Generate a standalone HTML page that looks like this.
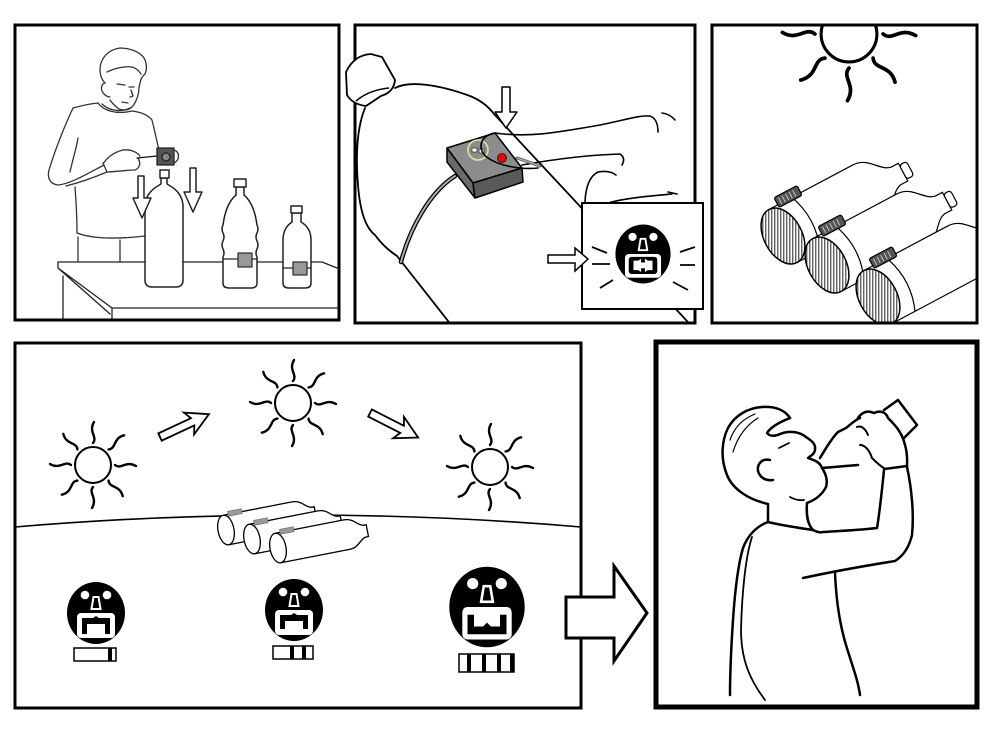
<!DOCTYPE html>
<html><head><meta charset="utf-8"><style>html,body{margin:0;padding:0;background:#fff}svg{display:block}</style></head>
<body>
<svg width="999" height="731" viewBox="0 0 999 731" xmlns="http://www.w3.org/2000/svg">
<defs>
<clipPath id="c1"><rect x="15" y="25" width="324" height="295"/></clipPath>
<clipPath id="c2"><rect x="355" y="25" width="340" height="298"/></clipPath>
<clipPath id="c3"><rect x="712" y="25" width="265" height="298"/></clipPath>
<clipPath id="c4"><rect x="15" y="343" width="566" height="365"/></clipPath>
<clipPath id="c5"><rect x="656" y="342" width="321" height="365"/></clipPath>
<pattern id="hatch" width="3" height="10" patternUnits="userSpaceOnUse" patternTransform="rotate(28)"><rect width="3" height="10" fill="#fff"/><line x1="0.8" y1="0" x2="0.8" y2="10" stroke="#222" stroke-width="1"/></pattern>
<path id="ray" d="M0,-22 C5,-28 -5,-33 1,-43" fill="none" stroke="#000" stroke-width="2.4" stroke-linecap="round"/>
<g id="sun">
<circle r="18" fill="none" stroke="#000" stroke-width="2"/>
<use href="#ray"/><use href="#ray" transform="rotate(45)"/><use href="#ray" transform="rotate(90)"/><use href="#ray" transform="rotate(135)"/>
<use href="#ray" transform="rotate(180)"/><use href="#ray" transform="rotate(225)"/><use href="#ray" transform="rotate(270)"/><use href="#ray" transform="rotate(315)"/>
</g>
<g id="facebase">
<ellipse rx="29" ry="31" fill="#000"/>
<circle cx="-11" cy="-18" r="4.3" fill="#fff"/><circle cx="11" cy="-18" r="4.3" fill="#fff"/>
<path d="M-2.5,-16 L2.5,-16 L4.5,-4 L-4.5,-4 Z" fill="none" stroke="#fff" stroke-width="2"/>
<rect x="-19" y="0" width="38" height="25" rx="4" fill="#fff"/>
</g>
<g id="lb">
<path d="M0,-30 L95,-30 C112,-30 116,-12 128,-10 L136,-10 L136,10 L128,10 C116,12 112,30 95,30 L0,30" fill="#fff" stroke="#000" stroke-width="1.2"/>
<rect x="136" y="-8" width="8" height="16" rx="3" fill="#fff" stroke="#000" stroke-width="1.2"/>
<ellipse cx="0" cy="0" rx="19" ry="30" fill="url(#hatch)" stroke="#000" stroke-width="1.5"/>
<path d="M26,-30 Q38,0 26,30" fill="none" stroke="#000" stroke-width="1.2"/>
<rect x="10" y="-38" width="26" height="11" rx="2" fill="#555" stroke="#000" stroke-width="1.2"/>
<path d="M14,-36 v7 M18,-36 v7 M22,-36 v7 M26,-36 v7 M30,-36 v7" stroke="#ddd" stroke-width="0.8"/>
</g>
<g id="sb">
<path d="M0,-15 L70,-15 C80,-15 82,-7 88,-6 L91,-6 L91,6 L88,6 C82,7 80,15 70,15 L0,15" fill="#fff" stroke="#000" stroke-width="1.3"/>
<ellipse rx="8" ry="15" fill="#fff" stroke="#000" stroke-width="1.3"/>
<rect x="5" y="-18" width="14" height="5" fill="#999" stroke="#666" stroke-width="0.6"/>
</g>
<polygon id="sarrow" points="0,-4 36,-4 32,-12 54,0 32,12 36,4 0,4" fill="#fff" stroke="#000" stroke-width="1.8" stroke-linejoin="miter"/>
</defs>

<rect width="999" height="731" fill="#fff"/>

<!-- PANEL 1 -->
<g clip-path="url(#c1)" fill="none" stroke="#333" stroke-width="1.3" stroke-linecap="round" stroke-linejoin="round">
<path d="M105,83 C100,78 99,70 101,63 C104,54 112,49 120,48 C130,48 140,52 144,58 C147,63 147,70 145,74"/>
<path d="M145,74 C141,77 140,82 139,88 C139,94 137,100 133,106 C129,110 124,111 119,109 C115,106 112,103 110,100"/>
<path d="M105,83 C101,84 100,90 104,94 C106,96 108,97 110,97"/>
<path d="M107,72 C115,68 125,66 132,67 C136,68 139,71 141,74"/>
<path d="M117,84 L125,85 M129,87 L134,87 M122,102 L128,103 M131,90 L133,96 L130,97"/>
<path d="M98,103 C103,110 115,115 132,111 M102,104 C108,110 120,113 130,108"/>
<path d="M73,108 C65,125 55,150 49,170 C47,178 50,184 58,185 C70,184 85,175 104,165"/>
<path d="M98,103 C88,104 80,106 73,108"/>
<path d="M78,138 C76,150 72,162 70,172"/>
<path d="M66,186 C82,182 95,177 107,172"/>
<path d="M103,164 C108,156 115,152 123,150 C130,149 137,152 140,156 M107,172 C115,172 125,170 135,170 C140,168 141,163 138,158 M103,163 L107,172"/>
<path d="M132,111 C140,112 148,115 152,120 C155,132 157,142 159,150"/>
<path d="M75,187 C76,200 77,220 77,233 C90,238 110,240 145,236"/>
<path d="M78,237 L78,262 M120,240 L120,262"/>
<path d="M137,158 L157,156" stroke="#111"/>
<rect x="157" y="148" width="17" height="17" fill="#555" stroke="#222"/>
<circle cx="166" cy="157" r="4" fill="#888" stroke="#222"/>
<path d="M174,150 C180,152 180,160 174,163"/>
<path d="M58,262 L322,262 L337,268 M58,262 L58,268 L112,308 L337,308 M63,276 L63,320 M112,308 L112,320 M58,268 L110,314" stroke="#222"/>
<path d="M161,178 L161,184 C150,190 146,196 145,205 L145,280 Q145,287 152,287 L176,287 Q183,287 183,280 L183,205 C182,196 178,190 167,184 L167,178 Z" fill="#fff" stroke="#222" stroke-width="1.5"/>
<rect x="160" y="170" width="9" height="8" fill="#fff" stroke="#222" stroke-width="1.5"/>
<path d="M236,187 L236,195 C230,200 225,210 223,225 q-2,4 0,8 q2,4 0,8 q-2,4 0,8 q2,4 0,8 L223,283 Q223,288 229,288 L251,288 Q257,288 257,283 L257,257 q-2,-4 0,-8 q2,-4 0,-8 q-2,-4 0,-8 q2,-4 0,-8 C255,210 250,200 244,195 L244,187 Z" fill="#fff" stroke="#222" stroke-width="1.5"/>
<rect x="234" y="179" width="12" height="8" fill="#fff" stroke="#222" stroke-width="1.5"/>
<path d="M223,259 L238,259 M252,259 L257,259" stroke="#222"/>
<rect x="238" y="253" width="14" height="14" fill="#999" stroke="#333"/>
<path d="M292,213 L292,222 C286,226 283,232 283,240 L283,283 Q283,288 289,288 L305,288 Q311,288 311,283 L311,240 C311,232 308,226 301,222 L301,213 Z" fill="#fff" stroke="#222" stroke-width="1.5"/>
<rect x="291" y="206" width="11" height="7" fill="#fff" stroke="#222" stroke-width="1.5"/>
<path d="M283,268 L293,268 M307,268 L311,268" stroke="#222"/>
<rect x="293" y="262" width="14" height="13" fill="#999" stroke="#333"/>
<polygon points="138,176 144,176 144,198 151,198 142,218 133,198 138,198" fill="#fff" stroke="#222" stroke-width="1.5"/>
<polygon points="190,168 196,168 196,192 202,192 193,212 184,192 190,192" fill="#fff" stroke="#222" stroke-width="1.5"/>
</g>
<rect x="15" y="25" width="324" height="295" fill="none" stroke="#000" stroke-width="3"/>

<!-- PANEL 2 -->
<g clip-path="url(#c2)" fill="none" stroke="#000" stroke-width="1.8" stroke-linecap="round" stroke-linejoin="round">
<path d="M395,88 C410,80 440,85 470,96 C480,100 488,106 494,114 L700,335"/>
<path d="M365,108 C356,130 356,160 358,185 C360,212 366,228 375,235 C380,242 388,250 397,256 L452,326"/>
<path d="M495,133 C530,138 560,132 600,125 C625,120 640,115 650,116 C656,118 658,125 658,132 M662,113 Q670,114 675,120" stroke-width="1.6"/>
<path d="M522,165 C550,160 585,155 620,154 Q626,158 622,165" stroke-width="1.6"/>
<path d="M585,202 Q586,178 598,172 Q610,170 616,175" stroke-width="1.6"/>
<path d="M608,203 C625,198 650,196 672,194 M668,192 l9,2" stroke-width="1.6"/>
<path d="M517,158 L540,166" stroke="#444" stroke-width="3"/>
<path d="M517,158 L540,166" stroke="#aaa" stroke-width="1.5"/>
<path d="M455,176 C430,192 410,228 401,262" stroke="#000" stroke-width="4.5"/>
<path d="M455,176 C430,192 410,228 401,262" stroke="#aaa" stroke-width="2"/>
<polygon points="447,148 495,133 522,168 473,183" fill="#8c8c8c" stroke="#000" stroke-width="1.5"/>
<polygon points="447,148 447,162 475,198 473,183" fill="#6a6a6a" stroke="#000" stroke-width="1.5"/>
<polygon points="473,183 475,198 523,182 522,168" fill="#5a5a5a" stroke="#000" stroke-width="1.5"/>
<circle cx="478" cy="150" r="10" stroke="#e4e4a0" stroke-width="1.5"/>
<rect x="472" y="148" width="5" height="4" fill="#fff" stroke="#333" stroke-width="0.8"/>
<rect x="479" y="149" width="5" height="4" fill="#fff" stroke="#333" stroke-width="0.8"/>
<circle cx="502" cy="158" r="4.5" fill="#d41010" stroke="#600" stroke-width="1"/>
<path d="M495,133 C480,135 476,150 488,158 C498,165 518,170 538,168" stroke-width="1.6"/>
<polygon points="502,87 510,87 510,112 517,112 506,128 495,112 502,112" fill="#fff" stroke="#000" stroke-width="1.5"/>
</g>
<rect x="355" y="25" width="340" height="298" fill="none" stroke="#000" stroke-width="3"/>
<path d="M346,72 Q354,55 371,54 L382,57 L395,80 Q394,92 381,96 L366,106 Q352,104 347,95 Z" fill="#fff" stroke="#000" stroke-width="1.8"/>
<path d="M356,101 Q369,90 389,88" fill="none" stroke="#000" stroke-width="1.5"/>
<rect x="582" y="203" width="121" height="106" fill="#fff" stroke="#000" stroke-width="2"/>
<g transform="translate(643,254) scale(0.95)">
<use href="#facebase"/>
<rect x="-15" y="3" width="30" height="18" rx="3" fill="#000"/>
<path d="M-10,7 h5 l3,-2 v4 h4 v-4 l3,2 h5 v10 h-5 l-3,2 v-4 h-4 v4 l-3,-2 h-5 z" fill="#fff"/>
</g>
<path d="M592,247 L607,253 M592,264 L610,264 M600,288 L613,280 M680,252 L695,247 M680,265 L695,265 M673,282 L688,290" stroke="#000" stroke-width="1.8" fill="none"/>
<polygon points="548,255 575,255 575,248 588,259 575,271 575,263 548,263" fill="#fff" stroke="#000" stroke-width="1.5"/>

<!-- PANEL 3 -->
<g clip-path="url(#c3)">
<use href="#sun" transform="translate(849,34) scale(1.55)"/>
<use href="#lb" transform="translate(783,236) rotate(-28)"/>
<use href="#lb" transform="translate(827,265) rotate(-28)"/>
<use href="#lb" transform="translate(878,297) rotate(-28)"/>
</g>
<rect x="712" y="25" width="265" height="298" fill="none" stroke="#000" stroke-width="3"/>

<!-- PANEL 4 -->
<g clip-path="url(#c4)">
<use href="#sun" transform="translate(93,465)"/>
<use href="#sun" transform="translate(293,403)"/>
<use href="#sun" transform="translate(490,467)"/>
<use href="#sarrow" transform="translate(160,437) rotate(-25)"/>
<use href="#sarrow" transform="translate(370,413) rotate(27)"/>
<path d="M15,527 Q300,503 581,527" fill="none" stroke="#000" stroke-width="1.6"/>
<use href="#sb" transform="translate(226,530) rotate(-11)"/>
<use href="#sb" transform="translate(252,539) rotate(-11)"/>
<use href="#sb" transform="translate(278,548) rotate(-11)"/>
<g transform="translate(96,613)">
<use href="#facebase"/>
<path d="M-14,5 h11 l3,-2 l3,2 h11 v16 h-5 v-10 h-18 v10 h-5 z" fill="#000"/>
</g>
<g transform="translate(294,610)">
<use href="#facebase"/>
<path d="M-14,5 h11 l3,-2 l3,2 h11 v14 h-5 v-8 h-18 v8 h-5 z" fill="#000"/>
</g>
<g transform="translate(487,607) scale(1.3)">
<use href="#facebase"/>
<path d="M-15,6 h5 v9 h7 l3,-3 l3,3 h7 v-9 h5 v15 h-30 z" fill="#000"/>
</g>
<rect x="74" y="648" width="42" height="13" fill="#fff" stroke="#000" stroke-width="1.5"/>
<rect x="108" y="648" width="4" height="13" fill="#000"/>
<rect x="273" y="646" width="40" height="13" fill="#fff" stroke="#000" stroke-width="1.5"/>
<rect x="290" y="646" width="4" height="13" fill="#000"/>
<rect x="302" y="646" width="4" height="13" fill="#000"/>
<rect x="459" y="654" width="55" height="18" fill="#fff" stroke="#000" stroke-width="1.5"/>
<rect x="467" y="654" width="4" height="18" fill="#000"/>
<rect x="482" y="654" width="4" height="18" fill="#000"/>
<rect x="497" y="654" width="4" height="18" fill="#000"/>
<rect x="510" y="654" width="4" height="18" fill="#000"/>
</g>
<rect x="15" y="343" width="566" height="365" fill="none" stroke="#000" stroke-width="3"/>
<polygon points="566,597 614,597 614,566 647,613 614,661 614,638 566,638" fill="#fff" stroke="#000" stroke-width="3" stroke-linejoin="miter"/>

<!-- PANEL 5 -->
<g clip-path="url(#c5)" fill="none" stroke="#000" stroke-width="2.5" stroke-linecap="round" stroke-linejoin="round">
<path d="M768,504 C750,500 733,490 727,475 C720,458 722,440 728,428 C735,415 748,408 762,407 C775,406 785,410 790,418"/>
<path d="M790,418 C785,420 772,425 767,433 C770,437 776,436 780,434 C790,430 800,432 806,437 C812,441 816,444 815,450 C814,455 810,456 808,458 C814,460 820,462 822,468 C826,474 828,480 826,487 C822,495 815,500 807,503"/>
<path d="M730,440 C735,425 745,418 755,414 M733,452 C738,435 748,424 758,418" stroke-width="1.2"/>
<path d="M770,460 C762,458 757,464 758,471 C760,478 766,481 773,480"/>
<path d="M779,448 L789,443" stroke-width="1.8"/>
<path d="M790,497 Q797,501 804,500" stroke-width="1.8"/>
<path d="M820,458 C826,448 832,438 838,432 L846,428 C851,424 855,420 860,418"/>
<path d="M822,468 L858,465"/>
<path d="M884,410 L898,400 L917,425 L904,438"/>
<path d="M858,418 C862,412 868,410 874,413 C880,410 886,412 888,418 C895,425 902,432 905,445 C908,455 907,462 907,467"/>
<path d="M857,427 C862,425 866,430 868,435 M860,445 C866,445 870,452 872,458 C876,462 880,466 884,468" stroke-width="2"/>
<path d="M884,469 L907,466"/>
<path d="M907,467 C912,490 914,515 912,535 C909,548 903,556 895,561 C870,565 840,570 803,578"/>
<path d="M884,470 C882,490 880,510 877,528 C860,530 840,531 823,532"/>
<path d="M807,503 C806,515 808,525 813,530 C817,532 820,533 823,532"/>
<path d="M768,505 L768,522 C785,526 800,528 813,530"/>
<path d="M768,522 C757,526 748,535 743,548 C738,565 735,590 733,620 C731,650 730,675 730,695"/>
<path d="M752,537 C746,555 742,590 741,630 C741,660 750,680 765,700" stroke-width="1.8"/>
<path d="M835,572 C836,600 840,625 846,645 C852,665 858,680 860,695"/>
</g>
<rect x="656" y="342" width="321" height="365" fill="none" stroke="#000" stroke-width="5"/>
</svg>
</body></html>
